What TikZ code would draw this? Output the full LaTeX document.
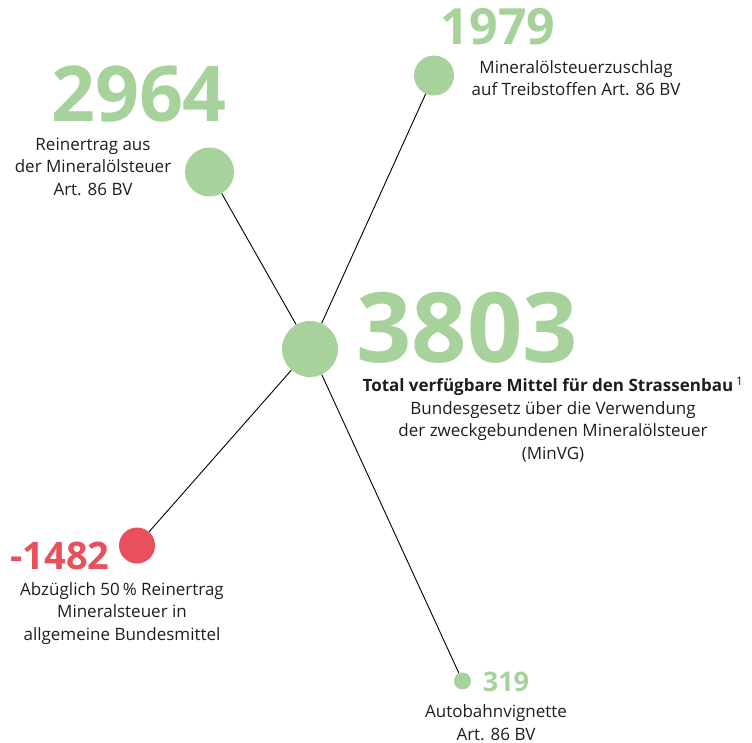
\documentclass[tikz,border=0pt]{standalone}
\usepackage{fontspec}
\setmainfont{Open Sans}
\definecolor{mgreen}{HTML}{A8D29B}
\definecolor{mred}{HTML}{E8505B}
\definecolor{mtext}{HTML}{1E1E1E}

\begin{document}
\begin{tikzpicture}[x=1pt,y=-1pt,
    dot/.style={circle,fill=#1,inner sep=0pt},
    big/.style={inner sep=0pt,font=\bfseries\fontsize{#1}{#1}\selectfont},
    txt/.style={align=center,inner sep=0pt,text=mtext,font=\fontsize{17}{22.6}\selectfont}]
  \useasboundingbox (0,0) rectangle (752,743);
  % circles
  \node[dot=mgreen,minimum size=56pt] (total) at (310,349) {};
  \node[dot=mgreen,minimum size=49pt] (rein) at (209.5,172) {};
  \node[dot=mgreen,minimum size=40pt] (zuschlag) at (434,75.5) {};
  \node[dot=mred,minimum size=36pt] (abzug) at (137,545.5) {};
  \node[dot=mgreen,minimum size=17pt] (vignette) at (462.5,681) {};
  % connectors
  \draw[line width=0.9pt] (total) -- (rein);
  \draw[line width=0.9pt] (total) -- (zuschlag);
  \draw[line width=0.9pt] (total) -- (abzug);
  \draw[line width=0.9pt] (total) -- (vignette);
  % numbers
  \node[big=77,text=mgreen] (n2964) at (139,94) {2964};
  \node[big=50,text=mgreen] (n1979) at (498,27) {1979};
  \node[big=97,text=mgreen] (n3803) at (467,328) {3803};
  \node[big=38,text=mred] (n1482) at (60,556) {-1482};
  \node[big=27,text=mgreen] (n319) at (506,682) {319};
  % labels
  \node[txt] (l2964) at (93,166.5) {Reinertrag aus\\der Mineralölsteuer\\Art. 86 BV};
  \node[txt] (l1979) at (576,78) {Mineralölsteuerzuschlag\\auf Treibstoffen Art. 86 BV};
  \node[txt] (l3803) at (553,419.5) {\textbf{Total verfügbare Mittel für den Strassenbau}\,\textsuperscript{1}\\Bundesgesetz über die Verwendung\\der zweckgebundenen Mineralölsteuer\\(MinVG)};
  \node[txt] (l1482) at (122,613.5) {Abzüglich 50\,\% Reinertrag\\Mineralsteuer in\\allgemeine Bundesmittel};
  \node[txt] (l319) at (496,722.5) {Autobahnvignette\\Art. 86 BV};
\end{tikzpicture}
\end{document}
